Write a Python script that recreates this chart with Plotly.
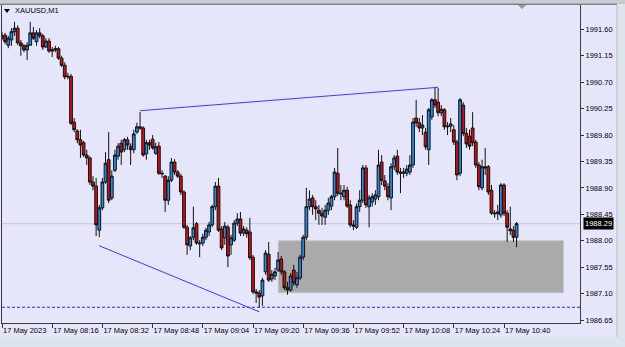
import plotly.graph_objects as go
import pandas as pd

SYMBOL = "XAUUSD,M1"
START = "2023-05-17 08:00"

OPEN = [1991.45,1991.50,1991.33,1991.42,1991.56,1991.62,1991.37,1991.32,1991.25,1991.33,
        1991.54,1991.39,1991.54,1991.49,1991.30,1991.40,1991.23,1991.25,1991.27,1991.11,
        1990.99,1990.79,1990.80,1990.02,1989.87,1989.72,1989.67,1989.46,1989.41,1989.00,
        1988.93,1988.18,1988.56,1989.00,1989.38,1988.73,1989.20,1989.44,1989.66,1989.55,
        1989.72,1989.61,1989.55,1989.85,1989.94,1989.92,1989.48,1989.67,1989.73,1989.49,
        1989.61,1989.15,1989.10,1988.69,1989.03,1989.34,1989.17,1989.10,1988.83,1988.23,
        1987.91,1988.06,1988.29,1987.96,1987.96,1988.06,1988.15,1988.27,1988.58,1988.93,
        1988.20,1988.05,1988.23,1987.93,1988.01,1988.30,1988.37,1988.13,1988.18,1988.15,
        1987.72,1987.13,1987.11,1987.06,1987.47,1987.77,1987.35,1987.40,1987.50,1987.69,
        1987.47,1987.20,1987.16,1987.50,1987.25,1987.37,1987.72,1988.06,1988.58,1988.73,
        1988.58,1988.52,1988.47,1988.40,1988.52,1988.59,1988.75,1989.15,1988.81,1988.75,
        1988.86,1988.61,1988.27,1988.23,1988.58,1988.69,1989.24,1988.58,1988.66,1988.71,
        1988.75,1989.34,1989.02,1988.92,1988.73,1989.26,1989.44,1989.17,1989.15,1989.15,
        1989.17,1989.29,1990.09,1990.01,1989.92,1989.85,1989.55,1990.11,1990.40,1990.36,
        1990.18,1990.23,1989.94,1989.95,1989.89,1989.68,1989.15,1990.31,1989.83,1989.78,
        1989.92,1989.68,1989.29,1988.90,1989.26,1989.26,1988.86,1988.47,1988.46,1988.44,
        1988.95,1988.47,1988.20,1988.18,1988.06]
HIGH = [1991.56,1991.54,1991.49,1991.62,1991.73,1991.67,1991.42,1991.35,1991.38,1991.73,
        1991.64,1991.59,1991.62,1991.52,1991.45,1991.45,1991.30,1991.32,1991.30,1991.15,
        1991.04,1990.86,1990.84,1990.09,1989.90,1989.89,1989.70,1989.55,1989.44,1989.10,
        1989.07,1988.61,1989.07,1989.51,1989.85,1989.20,1989.55,1989.66,1989.72,1989.75,
        1989.77,1989.66,1989.89,1990.01,1990.19,1989.95,1989.72,1989.72,1989.80,1989.67,
        1989.68,1989.20,1989.12,1989.10,1989.41,1989.39,1989.20,1989.14,1988.86,1988.27,
        1988.08,1988.58,1988.32,1988.01,1988.12,1988.22,1988.32,1988.61,1989.00,1989.07,
        1988.25,1988.32,1988.27,1988.10,1988.35,1988.47,1988.49,1988.25,1988.23,1988.39,
        1987.76,1987.18,1987.16,1987.37,1987.84,1987.98,1987.50,1987.54,1987.81,1987.74,
        1987.50,1987.30,1987.45,1987.59,1987.47,1987.76,1988.10,1988.90,1988.86,1988.78,
        1988.69,1988.61,1988.56,1988.61,1988.73,1988.78,1989.24,1989.58,1988.95,1988.95,
        1988.92,1988.69,1988.35,1988.63,1988.86,1989.29,1989.29,1988.78,1988.81,1988.86,
        1989.55,1989.46,1989.12,1988.98,1989.32,1989.46,1989.55,1989.24,1989.24,1989.29,
        1989.46,1990.09,1990.40,1990.09,1990.14,1989.92,1990.26,1990.43,1990.62,1990.60,
        1990.31,1990.26,1990.02,1990.09,1989.97,1989.72,1990.43,1990.36,1989.92,1989.89,
        1990.19,1989.72,1989.34,1989.38,1989.58,1989.29,1988.95,1988.52,1988.61,1988.98,
        1988.98,1988.52,1988.58,1988.25,1988.32]
LOW = [1991.42,1991.35,1991.28,1991.32,1991.49,1991.33,1991.15,1991.21,1991.08,1991.32,
       1991.42,1991.32,1991.45,1991.25,1991.28,1991.20,1991.13,1991.21,1991.08,1990.96,
       1990.75,1990.75,1989.97,1989.85,1989.66,1989.41,1989.43,1989.29,1988.95,1988.86,
       1988.08,1988.06,1988.52,1988.97,1988.64,1988.69,1989.17,1989.38,1989.29,1989.51,
       1989.55,1989.29,1989.49,1989.82,1989.89,1989.43,1989.38,1989.55,1989.55,1989.46,
       1989.12,1989.07,1988.49,1988.61,1989.00,1989.12,1989.07,1988.78,1988.20,1987.76,
       1987.84,1988.01,1987.93,1987.72,1987.91,1988.01,1988.08,1988.23,1988.52,1988.15,
       1987.84,1987.93,1987.55,1987.76,1987.98,1988.25,1988.08,1988.08,1988.05,1987.67,
       1987.09,1986.94,1986.86,1986.89,1987.42,1987.30,1987.30,1987.33,1987.47,1987.42,
       1987.16,1987.08,1987.13,1987.23,1987.20,1987.33,1987.67,1988.01,1988.52,1988.44,
       1988.35,1988.27,1988.27,1988.27,1988.44,1988.52,1988.69,1988.76,1988.69,1988.69,
       1988.56,1988.23,1988.18,1988.20,1988.49,1988.64,1988.56,1988.23,1988.58,1988.61,
       1988.69,1988.95,1988.86,1988.69,1988.52,1989.20,1989.12,1988.81,1989.07,1989.10,
       1989.12,1989.24,1989.94,1989.85,1989.80,1989.55,1989.29,1990.06,1990.26,1990.12,
       1990.12,1989.89,1989.80,1989.85,1989.63,1989.03,1989.10,1989.78,1989.58,1989.55,
       1989.61,1989.24,1988.86,1988.86,1989.12,1988.78,1988.44,1988.39,1988.35,1988.39,
       1988.42,1987.98,1988.10,1987.98,1987.89]
CLOSE = [1991.50,1991.39,1991.45,1991.56,1991.62,1991.37,1991.32,1991.25,1991.33,1991.54,
         1991.45,1991.54,1991.49,1991.30,1991.40,1991.23,1991.25,1991.27,1991.11,1990.99,
         1990.79,1990.80,1990.00,1989.89,1989.72,1989.63,1989.46,1989.41,1989.00,1988.93,
         1988.27,1988.56,1989.00,1989.32,1988.69,1989.10,1989.46,1989.61,1989.51,1989.72,
         1989.63,1989.55,1989.82,1989.94,1989.92,1989.46,1989.67,1989.63,1989.58,1989.60,
         1989.15,1989.14,1988.69,1989.03,1989.34,1989.17,1989.10,1988.83,1988.23,1987.93,
         1988.05,1988.22,1987.96,1987.95,1988.06,1988.18,1988.27,1988.58,1988.93,1988.18,
         1987.88,1988.25,1987.74,1988.05,1988.30,1988.37,1988.13,1988.20,1988.12,1987.71,
         1987.13,1987.11,1987.04,1987.33,1987.79,1987.33,1987.43,1987.47,1987.67,1987.47,
         1987.20,1987.16,1987.40,1987.28,1987.37,1987.72,1988.06,1988.58,1988.71,1988.58,
         1988.54,1988.47,1988.42,1988.52,1988.64,1988.75,1989.17,1988.81,1988.80,1988.86,
         1988.59,1988.27,1988.25,1988.58,1988.69,1989.24,1988.61,1988.73,1988.75,1988.78,
         1989.29,1989.03,1988.93,1988.75,1989.26,1989.41,1989.17,1989.15,1989.17,1989.22,
         1989.29,1990.02,1990.01,1989.92,1989.97,1989.60,1990.23,1990.40,1990.31,1990.18,
         1990.24,1989.94,1989.95,1989.99,1989.68,1989.12,1990.40,1989.83,1989.65,1989.61,
         1989.67,1989.29,1988.92,1989.26,1989.24,1988.83,1988.47,1988.46,1988.49,1988.95,
         1988.47,1988.23,1988.17,1988.06,1988.29]

TICK_TIMES = ["2023-05-17 08:00","2023-05-17 08:16","2023-05-17 08:32","2023-05-17 08:48",
              "2023-05-17 09:04","2023-05-17 09:20","2023-05-17 09:36","2023-05-17 09:52",
              "2023-05-17 10:08","2023-05-17 10:24","2023-05-17 10:40"]
TICK_LABELS = ["17 May 2023","17 May 08:16","17 May 08:32","17 May 08:48","17 May 09:04",
               "17 May 09:20","17 May 09:36","17 May 09:52","17 May 10:08","17 May 10:24",
               "17 May 10:40"]

UPPER_LINE_T = ["2023-05-17 08:44:00", "2023-05-17 10:19:00"]
UPPER_LINE_P = [1990.215, 1990.613]
LOWER_LINE_T = ["2023-05-17 08:30:55", "2023-05-17 09:22:00"]
LOWER_LINE_P = [1987.916, 1986.79]
ZONE_T = ["2023-05-17 09:28:04", "2023-05-17 10:58:54"]
ZONE_P = [1987.115, 1988.00]
DASHED_LEVEL = 1986.867
LAST_PRICE = 1988.29

times = pd.date_range(START, periods=len(CLOSE), freq="1min")

W, H = 625, 347
ML, MR, MT, MB = 2, 45, 5, 24
PW, PH = W - ML - MR, H - MT - MB
def px(x):
    return (x - ML) / PW
def py(y):
    return (H - MB - y) / PH

FONT = "Liberation Sans"
fig = go.Figure()
fig.add_trace(go.Candlestick(
    x=times, open=OPEN, high=HIGH, low=LOW, close=CLOSE,
    increasing=dict(line=dict(color="#111111", width=1), fillcolor="#2a88e0"),
    decreasing=dict(line=dict(color="#111111", width=1), fillcolor="#cc1010"),
    hoverinfo="skip", showlegend=False,
))
fig.add_trace(go.Scatter(x=UPPER_LINE_T, y=UPPER_LINE_P, mode="lines",
                         line=dict(color="#3a3aff", width=1), hoverinfo="skip", showlegend=False))
fig.add_trace(go.Scatter(x=LOWER_LINE_T, y=LOWER_LINE_P, mode="lines",
                         line=dict(color="#3a3aff", width=1), hoverinfo="skip", showlegend=False))

shapes = [
    dict(type="rect", xref="x", yref="y", x0=ZONE_T[0], x1=ZONE_T[1], y0=ZONE_P[0], y1=ZONE_P[1],
         fillcolor="#aaaaaa", line=dict(color="#c4c4c4", width=1), layer="below"),
    dict(type="line", xref="paper", yref="y", x0=0, x1=1, y0=LAST_PRICE, y1=LAST_PRICE,
         line=dict(color="#c8c8d0", width=1), layer="below"),
    dict(type="line", xref="paper", yref="y", x0=0, x1=1, y0=DASHED_LEVEL, y1=DASHED_LEVEL,
         line=dict(color="#2020ff", width=1, dash="3px,2px"), layer="above"),
    # window chrome
    dict(type="rect", xref="paper", yref="paper", x0=px(-5), x1=px(630), y0=py(0), y1=py(3.5),
         fillcolor="#c9cdd3", line=dict(width=0), layer="above"),
    dict(type="rect", xref="paper", yref="paper", x0=px(-5), x1=px(630), y0=py(3.5), y1=py(5),
         fillcolor="#7b7f86", line=dict(width=0), layer="above"),
    dict(type="rect", xref="paper", yref="paper", x0=px(617), x1=px(630), y0=py(3.5), y1=py(350),
         fillcolor="#dde4ee", line=dict(width=0), layer="above"),
    dict(type="rect", xref="paper", yref="paper", x0=px(-5), x1=px(630), y0=py(337), y1=py(350),
         fillcolor="#dde4ee", line=dict(width=0), layer="above"),
    dict(type="line", xref="paper", yref="paper", x0=px(617), x1=px(617), y0=py(5), y1=py(337),
         line=dict(color="#b8bec8", width=1), layer="above"),
    # shift marker
    dict(type="path", xref="paper", yref="paper",
         path=f"M {px(518)} {py(5)} L {px(526)} {py(5)} L {px(522)} {py(9)} Z",
         fillcolor="#9a9a9a", line=dict(width=0), layer="above"),
    # symbol triangle
    dict(type="path", xref="paper", yref="paper",
         path=f"M {px(4)} {py(9)} L {px(10)} {py(9)} L {px(7)} {py(13)} Z",
         fillcolor="#000000", line=dict(width=0), layer="above"),
]

annotations = [
    dict(text=SYMBOL, xref="paper", yref="paper", x=px(13), y=py(11), xanchor="left", yanchor="middle",
         showarrow=False, font=dict(family=FONT, size=7.5, color="#000000")),
    dict(text=f"{LAST_PRICE:.2f}", xref="paper", yref="y", x=1, y=LAST_PRICE, xanchor="left",
         yanchor="middle", xshift=3, showarrow=False, bgcolor="#000000", borderpad=1,
         font=dict(family=FONT, size=7.5, color="#ffffff")),
]

fig.update_layout(
    width=W, height=H, margin=dict(l=ML, r=MR, t=MT, b=MB, pad=0, autoexpand=False),
    paper_bgcolor="#e6e6fa", plot_bgcolor="#e6e6fa",
    font=dict(family=FONT, size=7.5, color="#000000"),
    boxgap=0.12, boxgroupgap=0,
    shapes=shapes, annotations=annotations, showlegend=False,
    xaxis=dict(
        type="date", range=["2023-05-17 08:00:00", "2023-05-17 11:04:13"],
        rangeslider=dict(visible=False), showgrid=False, zeroline=False,
        tickvals=TICK_TIMES, ticktext=TICK_LABELS, ticks="outside", ticklen=4,
        tickangle=0, automargin=False,
        tickcolor="#333333", ticklabelposition="outside right",
        showline=True, linecolor="#3c3c3c", linewidth=1, mirror=True,
        tickfont=dict(family=FONT, size=7.5, color="#000000"),
    ),
    yaxis=dict(
        side="right", range=[1986.599, 1992.015], showgrid=False, zeroline=False,
        tick0=1986.65, dtick=0.45, tickformat=".2f", ticks="outside", ticklen=3,
        automargin=False,
        tickcolor="#333333", showline=True, linecolor="#3c3c3c", linewidth=1, mirror=True,
        tickfont=dict(family=FONT, size=7.5, color="#000000"),
    ),
)

fig.write_html("out.html")
